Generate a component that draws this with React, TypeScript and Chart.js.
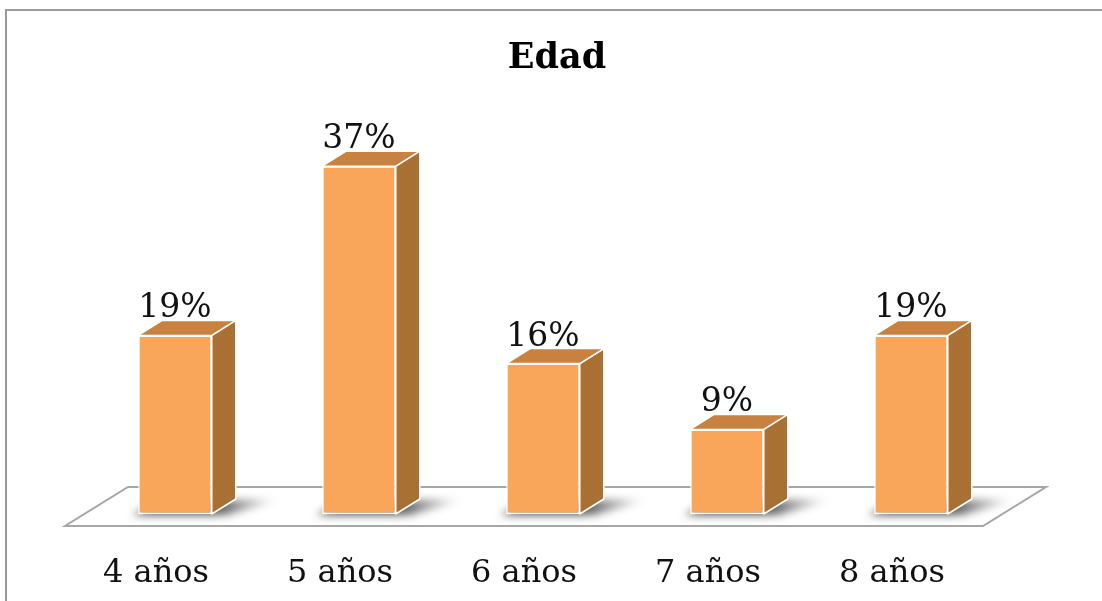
import { useEffect, useRef } from "react";
import { Chart, registerables } from "chart.js";

Chart.register(...registerables);

const chartTitle = "Edad";
const categories = ["4 años", "5 años", "6 años", "7 años", "8 años"];
const values = [19, 37, 16, 9, 19];
const valueLabels = ["19%", "37%", "16%", "9%", "19%"];

const FRONT = "#F9A55A";
const TOP = "#C8813F";
const SIDE = "#A87033";
const DX = 24;
const DY = 15;

const bars3d = {
  id: "bars3d",
  beforeDraw(chart: any) {
    const { ctx, width, height } = chart;
    ctx.save();
    ctx.fillStyle = "#ffffff";
    ctx.fillRect(0, 0, width, height);
    ctx.strokeStyle = "#9a9a9a";
    ctx.lineWidth = 2;
    ctx.beginPath();
    ctx.moveTo(6, height);
    ctx.lineTo(6, 10);
    ctx.lineTo(width, 10);
    ctx.stroke();
    ctx.restore();
  },
  beforeDatasetsDraw(chart: any) {
    const { ctx, chartArea } = chart;
    const base = chart.scales.y.getPixelForValue(0);
    const fy = base + 12;
    const fl = chartArea.left - 18;
    const fr = chartArea.right - 20;
    const bdx = 63;
    const bdy = -39;
    ctx.save();
    ctx.beginPath();
    ctx.moveTo(fl, fy);
    ctx.lineTo(fr, fy);
    ctx.lineTo(fr + bdx, fy + bdy);
    ctx.lineTo(fl + bdx, fy + bdy);
    ctx.closePath();
    ctx.fillStyle = "#ffffff";
    ctx.fill();
    ctx.strokeStyle = "#a6a6a6";
    ctx.lineWidth = 2;
    ctx.stroke();
    // shadows
    const meta = chart.getDatasetMeta(0);
    meta.data.forEach((el: any) => {
      const { x, width } = el.getProps(["x", "width"], true);
      const x0 = x - width / 2;
      const x1 = x + width / 2;
      ctx.save();
      ctx.filter = "blur(4px)";
      const g = ctx.createLinearGradient(x1, 0, x1 + DX + 45, 0);
      g.addColorStop(0, "rgba(0,0,0,0.7)");
      g.addColorStop(1, "rgba(0,0,0,0)");
      ctx.fillStyle = g;
      ctx.beginPath();
      ctx.moveTo(x0 - 6, base + 1);
      ctx.lineTo(x1 + 14, base + 1);
      ctx.lineTo(x1 + DX + 42, base - DY + 1);
      ctx.lineTo(x0 + DX, base - DY + 1);
      ctx.closePath();
      ctx.fill();
      ctx.restore();
    });
    ctx.restore();
  },
  afterDatasetsDraw(chart: any) {
    const { ctx } = chart;
    const meta = chart.getDatasetMeta(0);
    ctx.save();
    meta.data.forEach((el: any, i: number) => {
      const { x, y, base, width } = el.getProps(["x", "y", "base", "width"], true);
      const x0 = x - width / 2;
      const x1 = x + width / 2;
      ctx.lineWidth = 1.5;
      ctx.strokeStyle = "#ffffff";
      ctx.lineJoin = "round";
      // side
      ctx.beginPath();
      ctx.moveTo(x1, y);
      ctx.lineTo(x1 + DX, y - DY);
      ctx.lineTo(x1 + DX, base - DY);
      ctx.lineTo(x1, base);
      ctx.closePath();
      ctx.fillStyle = SIDE;
      ctx.fill();
      ctx.stroke();
      // top
      ctx.beginPath();
      ctx.moveTo(x0, y);
      ctx.lineTo(x0 + DX, y - DY);
      ctx.lineTo(x1 + DX, y - DY);
      ctx.lineTo(x1, y);
      ctx.closePath();
      ctx.fillStyle = TOP;
      ctx.fill();
      ctx.stroke();
      // label
      ctx.fillStyle = "#111111";
      ctx.font = "33px 'DejaVu Serif'";
      ctx.textAlign = "center";
      ctx.textBaseline = "alphabetic";
      ctx.fillText(valueLabels[i], x, y - DY - 3);
    });
    ctx.restore();
  },
  afterDraw(chart: any) {
    const { ctx } = chart;
    ctx.save();
    ctx.fillStyle = "#000000";
    ctx.font = "bold 35px 'DejaVu Serif'";
    ctx.textAlign = "center";
    ctx.textBaseline = "alphabetic";
    ctx.fillText(chartTitle, 557, 68);
    ctx.restore();
  },
};

export default function App() {
  const ref = useRef<HTMLCanvasElement | null>(null);
  useEffect(() => {
    if (!ref.current) return;
    const chart = new Chart(ref.current, {
      type: "bar",
      data: {
        labels: categories,
        datasets: [
          {
            data: values,
            backgroundColor: FRONT,
            borderColor: "#ffffff",
            borderWidth: 1.5,
            borderSkipped: false,
            categoryPercentage: 1,
            barPercentage: 0.4,
          },
        ],
      },
      options: {
        responsive: false,
        animation: false,
        devicePixelRatio: 1,
        layout: { padding: { left: 83, right: 99, top: 138, bottom: 0 } },
        plugins: {
          legend: { display: false },
          title: { display: false },
          tooltip: { enabled: false },
        },
        scales: {
          x: {
            grid: { display: false, drawTicks: false },
            border: { display: false },
            ticks: {
              color: "#111111",
              font: { family: "'DejaVu Serif'", size: 32 },
              padding: 40,
              labelOffset: -19,
              maxRotation: 0,
            },
            afterFit: (scale: any) => {
              scale.height = 87;
            },
          },
          y: {
            display: false,
            min: 0,
            max: 40,
          },
        },
      },
      plugins: [bars3d],
    });
    return () => chart.destroy();
  }, []);
  return (
    <div style={{ position: "fixed", left: 0, top: 0, width: 1102, height: 601 }}>
      <canvas ref={ref} width={1102} height={601} style={{ display: "block" }} />
    </div>
  );
}
